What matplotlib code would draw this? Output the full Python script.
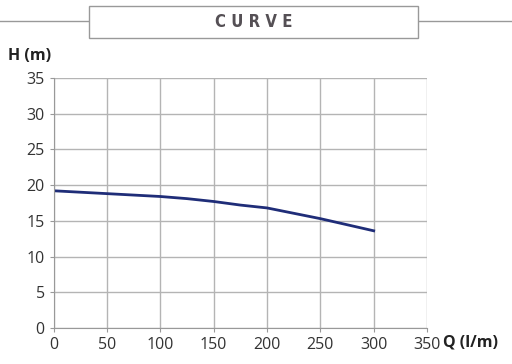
import matplotlib
matplotlib.use("Agg")
import matplotlib.pyplot as plt
from matplotlib.patches import Rectangle
from matplotlib.lines import Line2D

# Pump curve data
flow = [0, 50, 100, 125, 150, 175, 200, 250, 300]
head = [19.2, 18.8, 18.4, 18.1, 17.7, 17.2, 16.8, 15.3, 13.6]
x_ticks = [0, 50, 100, 150, 200, 250, 300, 350]
y_ticks = [0, 5, 10, 15, 20, 25, 30, 35]

plt.rcParams['font.family'] = ['Open Sans', 'DejaVu Sans']

fig = plt.figure(figsize=(5.12, 3.64), dpi=100)
ax = fig.add_axes([0.105, 0.099, 0.729, 0.687])

ax.plot(flow, head, color='#1f2d78', linewidth=2.0)

ax.set_xlim(0, 350)
ax.set_ylim(0, 35)
ax.set_xticks(x_ticks)
ax.set_yticks(y_ticks)
ax.grid(True, color='#b4b4b4', linewidth=1.0)
for s in ['top', 'right']:
    ax.spines[s].set_visible(False)
for s in ['left', 'bottom']:
    ax.spines[s].set_color('#999999')
ax.tick_params(colors='#999999', labelcolor='#333333', labelsize=11.5, length=3)

# header box with title
fig.add_artist(Line2D([0, 1], [0.942, 0.942], transform=fig.transFigure, color='#999999', linewidth=1))
fig.add_artist(Rectangle((0.174, 0.896), 0.643, 0.088, transform=fig.transFigure,
                         facecolor='white', edgecolor='#999999', linewidth=1, zorder=3))
fig.text(0.495, 0.940, 'C U R V E', ha='center', va='center', fontsize=12,
         fontweight='heavy', color='#555055', family='DejaVu Sans',
         fontstretch='condensed', zorder=4)

fig.text(0.016, 0.845, 'H (m)', fontsize=11.5, fontweight='bold', color='#222222', va='center')
fig.text(0.866, 0.058, 'Q (l/m)', fontsize=11.5, fontweight='bold', color='#222222', va='center')

fig.savefig('out.png', dpi=100)
